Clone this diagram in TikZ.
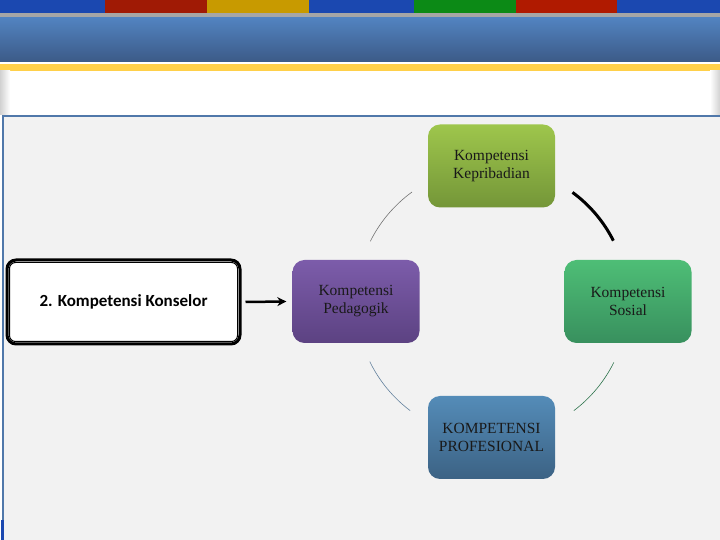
\documentclass[tikz,border=0pt]{standalone}
\usepackage{fontspec}
\setmainfont{Liberation Serif}
\newfontfamily\calib{Carlito}
\usetikzlibrary{arrows.meta,calc}
\definecolor{panelbg}{RGB}{242,242,242}
\definecolor{panelline}{RGB}{80,120,170}
\definecolor{stblue}{RGB}{27,72,176}
\definecolor{stred}{RGB}{160,26,5}
\definecolor{stgold}{RGB}{200,154,0}
\definecolor{stgreen}{RGB}{12,138,22}
\definecolor{stred2}{RGB}{176,26,0}
\definecolor{hdtop}{RGB}{82,131,192}
\definecolor{hdbot}{RGB}{60,90,135}
\definecolor{ylw}{RGB}{255,208,74}
\definecolor{kepT}{RGB}{158,198,76}
\definecolor{kepB}{RGB}{116,150,56}
\definecolor{sosT}{RGB}{78,190,118}
\definecolor{sosB}{RGB}{56,144,94}
\definecolor{pedT}{RGB}{124,92,170}
\definecolor{pedB}{RGB}{92,66,130}
\definecolor{proT}{RGB}{84,140,184}
\definecolor{proB}{RGB}{60,98,132}
\tikzset{
  cbox/.style={rounded corners=12pt, minimum width=127pt, minimum height=83pt,
    align=center, font=\fontsize{15.5}{18}\selectfont, text=black!90, inner sep=2pt},
  arcthin/.style={line width=0.6pt},
}
\begin{document}
\begin{tikzpicture}[x=1pt,y=1pt]
\useasboundingbox (0,0) rectangle (720,540);
% page background
\fill[white] (0,0) rectangle (720,540);
% colour stripes
\fill[stblue] (0,527) rectangle (105,540);
\fill[stred] (105,527) rectangle (207,540);
\fill[stgold] (207,527) rectangle (309,540);
\fill[stblue] (309,527) rectangle (414,540);
\fill[stgreen] (414,527) rectangle (516,540);
\fill[stred2] (516,527) rectangle (617,540);
\fill[stblue] (617,527) rectangle (720,540);
\fill[black!35] (0,522) rectangle (720,527);
% header band
\shade[top color=hdtop, bottom color=hdbot] (0,478) rectangle (720,522);
\fill[ylw] (0,469) rectangle (720,476);
% side shadows of white strip
\shade[left color=black!18, right color=white] (0,425) rectangle (10,469);
\shade[right color=black!18, left color=white] (710,425) rectangle (720,469);
% content panel
\fill[panelbg] (2,0) rectangle (720,425);
\draw[panelline, line width=2pt] (3,0) -- (3,424) -- (720,424);
\fill[stblue] (1,0) rectangle (4,20);
% main box
\node[draw=black, line width=3pt, rounded corners=9pt, fill=white,
      minimum width=233pt, minimum height=84pt, inner sep=0pt] (main) at (123.5,238) {};
\draw[black, line width=1pt, rounded corners=6pt]
  ($(main.south west)+(4,4)$) rectangle ($(main.north east)+(-4,-4)$);
\node[font=\calib\bfseries\fontsize{17}{20}\selectfont] (mainlbl) at (main.center) {2. Kompetensi Konselor};
% cycle boxes
\node[cbox, top color=kepT, bottom color=kepB] (kep) at (491.5,374) {Kompetensi\\Kepribadian};
\node[cbox, top color=sosT, bottom color=sosB] (sos) at (628,238.5) {Kompetensi\\Sosial};
\node[cbox, top color=pedT, bottom color=pedB] (ped) at (356,238.5) {Kompetensi\\Pedagogik};
\node[cbox, top color=proT, bottom color=proB] (pro) at (491.5,102.5) {KOMPETENSI\\PROFESIONAL};
% arrow
\draw[line width=2.5pt, -{Stealth[length=9pt,width=9pt]}] ([xshift=4pt]main.east) -- ([xshift=-6pt]ped.west);
% arcs of the cycle
\coordinate (c) at (492,238);
\draw[arcthin, black!55] ($(c)+(126:136)$) arc[start angle=126, end angle=153.5, radius=136];
\draw[line width=3pt, black] ($(c)+(26.8:136)$) arc[start angle=26.8, end angle=53.7, radius=136];
\draw[arcthin, proB!80] ($(c)+(206:136)$) arc[start angle=206, end angle=233, radius=136];
\draw[arcthin, sosB!80!black] ($(c)+(307:136)$) arc[start angle=307, end angle=333.6, radius=136];
\end{tikzpicture}
\end{document}
